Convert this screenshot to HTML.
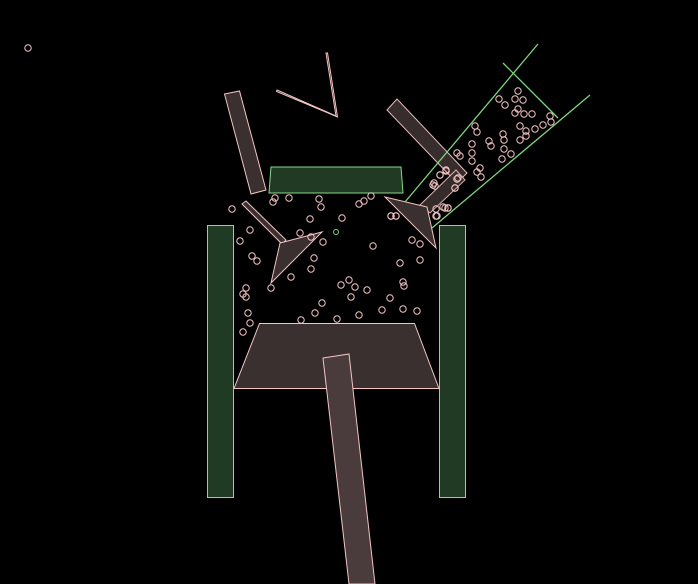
<!DOCTYPE html>
<html><head><meta charset="utf-8"><style>
html,body{margin:0;padding:0;background:#000;width:698px;height:584px;overflow:hidden}
svg{display:block}
.b{fill:#3a3030;stroke:#f4c4c4;stroke-width:1}
.g{fill:#213a23;stroke:#86dc86;stroke-width:1}
.p{fill:none;stroke:#f4c4c4;stroke-width:1}
</style></head><body>
<svg id="scene" width="698" height="584" viewBox="0 0 698 584" xmlns="http://www.w3.org/2000/svg">
<rect width="698" height="584" fill="#000"/>
<polygon class="g" points="207.5,225.5 233.5,225.5 233.5,497.5 207.5,497.5"/>
<polygon class="g" points="439.5,225.5 465.5,225.5 465.5,497.5 439.5,497.5"/>
<polygon class="g" points="271,167 401,167 403,193 269,193"/>
<polygon class="b" points="224.5,94 239.5,91 266,190 251,194"/>
<polygon class="p" points="277,90 336,116 326,53 327.5,53 337.5,117 276.5,91.5"/>
<polygon class="b" points="242,204 246,201 286,240 282,244"/>
<polygon class="b" points="280,243 322,232 271,283"/>
<polygon class="b" points="387,110 397,99 467,173 457,183" opacity="0.95"/>
<polygon class="b" points="420,205 456,170 465,180 430,213" opacity="0.9"/>
<polygon class="b" points="385,197 427,207 436,248"/>
<polygon class="b" points="259.5,323.5 414.5,323.5 439,388.5 234,388.5"/>
<polygon class="b" points="323,358 349,354 375,584 349,584" style="fill:#4a3c3c"/>
<g stroke="#7fd67f" stroke-width="1.3">
<line x1="405" y1="202" x2="538" y2="44"/>
<line x1="432" y1="228" x2="590" y2="95"/>
<line x1="503" y1="63" x2="558" y2="118"/>
</g>
<g id="parts"></g>
</svg>
<script>
const px=[28,275,273,289,319,321,250,240,300,311,323,342,373,359,364,252,257,314,311,291,246,243,246,248,250,243,301,315,322,341,349,355,367,351,337,359,382,390,403,417,403,404,400,420,412,420,391,396,436,445,448,440,455,457,433,446,232,310,271,371,
518,499,505,515,523,518,515,524,532,550,551,543,535,526,526,520,520,503,504,504,511,502,489,491,475,477,472,472,472,457,460,480,477,481,440,434,435,455,436,443,448,437,391,396,446,458];
const py=[48,198,202,198,199,207,230,241,233,237,242,218,246,204,201,256,261,258,269,277,288,294,297,313,323,332,320,313,303,285,280,287,290,297,319,315,310,298,309,311,282,286,263,260,240,244,216,216,216,208,208,175,188,179,185,171,209,219,288,196,
91,99,105,99,100,109,113,114,114,116,122,125,129,131,136,126,140,134,140,149,154,159,141,146,126,132,144,153,161,153,156,168,172,177,175,183,186,188,209,207,208,216,216,216,170,178];
const g=document.getElementById('parts');
for(let i=0;i<px.length;i++){
 const c=document.createElementNS('http://www.w3.org/2000/svg','circle');
 c.setAttribute('cx',px[i]);c.setAttribute('cy',py[i]);c.setAttribute('r',3.2);
 c.setAttribute('class','p');
 
 
 g.appendChild(c);
}
const gp=document.createElementNS('http://www.w3.org/2000/svg','circle');
gp.setAttribute('cx',336);gp.setAttribute('cy',232);gp.setAttribute('r',2.5);
gp.setAttribute('fill','none');gp.setAttribute('stroke','#7fd67f');


g.appendChild(gp);
</script>
</body></html>
